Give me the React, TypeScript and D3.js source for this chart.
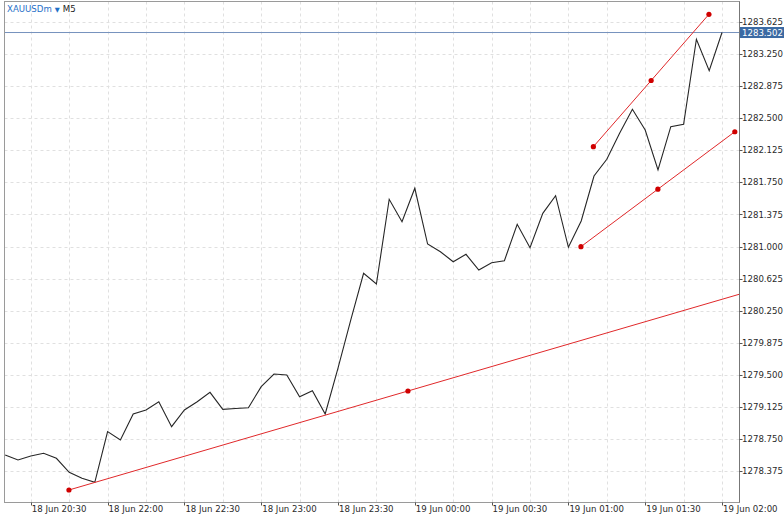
import React from "react";
import * as d3 from "d3";

const closes = [
  1278.562, 1278.504, 1278.55, 1278.582, 1278.524, 1278.36, 1278.29, 1278.243,
  1278.835, 1278.737, 1279.042, 1279.088, 1279.185, 1278.893, 1279.088, 1279.185,
  1279.295, 1279.096, 1279.106, 1279.115, 1279.361, 1279.509, 1279.498, 1279.244,
  1279.314, 1279.042, 1279.579, 1280.141, 1280.687, 1280.562, 1281.552, 1281.29,
  1281.681, 1281.029, 1280.939, 1280.822, 1280.909, 1280.725, 1280.811, 1280.834,
  1281.26, 1280.986, 1281.388, 1281.594, 1280.991, 1281.298, 1281.824, 1282.02,
  1282.324, 1282.604, 1282.362, 1281.895, 1282.401, 1282.429, 1283.423, 1283.056,
  1283.502,
];

const xTickBars = [2, 8, 14, 20, 26, 32, 38, 44, 50, 56];
const xTickLabels = [
  "18 Jun 20:30", "18 Jun 22:00", "18 Jun 22:30", "18 Jun 23:00", "18 Jun 23:30",
  "19 Jun 00:00", "19 Jun 00:30", "19 Jun 01:00", "19 Jun 01:30", "19 Jun 02:00",
];
const yTickLabels = [
  "1278.375", "1278.750", "1279.125", "1279.500", "1279.875", "1280.250", "1280.625",
  "1281.000", "1281.375", "1281.750", "1282.125", "1282.500", "1282.875", "1283.250", "1283.625",
];
const lastPrice = 1283.502;

// trendlines: [bar1, price1, bar2, price2]
const trendSupport = [4.98, 1278.153, 57.95, 1280.468];
const trendUpper = [45.95, 1282.167, 54.98, 1283.715];
const trendLower = [44.98, 1280.998, 57.0, 1282.342];
const trendlines = [trendSupport, trendUpper, trendLower];

const W = 784, H = 515;
const L = 4.5, T = 1.5, R = 739.5, B = 502.5;
const FONT = "'DejaVu Sans', Verdana, sans-serif";

export default function App() {
  const x = d3.scaleLinear().domain([0, 56]).range([5.2, 722]);
  const y = d3.scaleLinear().domain([1278.375, 1283.625]).range([471, 22]);
  const line = d3.line<number>().x((_, i) => x(i)).y((d) => y(d));
  const gridBars = d3.range(2, 60, 3);
  const red = "#e0282a";
  const grid = "#e0e0e0";
  return (
    <svg width={W} height={H} style={{ position: "absolute", left: 0, top: 0, background: "#fff" }}>
      <defs>
        <clipPath id="plot">
          <rect x={L} y={T} width={R - L} height={B - T} />
        </clipPath>
      </defs>
      <rect x={0} y={0} width={W} height={H} fill="#fff" />
      <g clipPath="url(#plot)">
        {gridBars.map((b) => (
          <line key={"gv" + b} x1={Math.round(x(b)) + 0.5} x2={Math.round(x(b)) + 0.5} y1={T} y2={B}
            stroke={grid} strokeDasharray="3,3" />
        ))}
        {yTickLabels.map((t) => (
          <line key={"gh" + t} x1={L} x2={R} y1={Math.round(y(+t)) + 0.5} y2={Math.round(y(+t)) + 0.5}
            stroke={grid} strokeDasharray="3,3" />
        ))}
        <line x1={L} x2={R} y1={y(lastPrice)} y2={y(lastPrice)} stroke="#7592bd" strokeWidth={1} />
        <path d={line(closes) || ""} fill="none" stroke="#262626" strokeWidth={1.1} />
        {trendlines.map((t, i) => {
          const [b1, p1, b2, p2] = t;
          return (
            <g key={"tl" + i}>
              <line x1={x(b1)} y1={y(p1)} x2={x(b2)} y2={y(p2)} stroke={red} strokeWidth={1} />
              <circle cx={x(b1)} cy={y(p1)} r={2.6} fill="#d00000" />
              <circle cx={(x(b1) + x(b2)) / 2} cy={(y(p1) + y(p2)) / 2} r={2.6} fill="#d00000" />
              <circle cx={x(b2)} cy={y(p2)} r={2.6} fill="#d00000" />
            </g>
          );
        })}
      </g>
      <rect x={L} y={T} width={R - L} height={B - T} fill="none" stroke="#9a9a9a" />
      <line x1={R} x2={R} y1={T} y2={B} stroke="#777" />
      {yTickLabels.map((t) => (
        <g key={"yt" + t}>
          <line x1={R} x2={R + 3} y1={Math.round(y(+t)) + 0.5} y2={Math.round(y(+t)) + 0.5} stroke="#555" />
          <text x={742} y={y(+t)} dy="0.36em" fontFamily={FONT} fontSize={8.6} fill="#2a2a2a">{t}</text>
        </g>
      ))}
      <rect x={R + 0.5} y={y(lastPrice) - 5.5} width={W - R} height={11} fill="#3b6aa3" />
      <text x={742} y={y(lastPrice)} dy="0.36em" fontFamily={FONT} fontSize={8.6} fill="#fff">
        {lastPrice.toFixed(3)}
      </text>
      {xTickBars.map((b, i) => (
        <g key={"xt" + b}>
          <line x1={Math.round(x(b)) + 0.5} x2={Math.round(x(b)) + 0.5} y1={B} y2={B + 3} stroke="#555" />
          <text x={x(b) + 1} y={512} fontFamily={FONT} fontSize={8.6} fill="#2a2a2a">{xTickLabels[i]}</text>
        </g>
      ))}
      <text x={7} y={12.3} fontFamily={FONT} fontSize={8.6}>
        <tspan fill="#1f6fc8">XAUUSDm</tspan>
        <tspan fill="#1f6fc8" fontSize={6.5} dx={3}>▼</tspan>
        <tspan fill="#222" dx={3}>M5</tspan>
      </text>
    </svg>
  );
}
